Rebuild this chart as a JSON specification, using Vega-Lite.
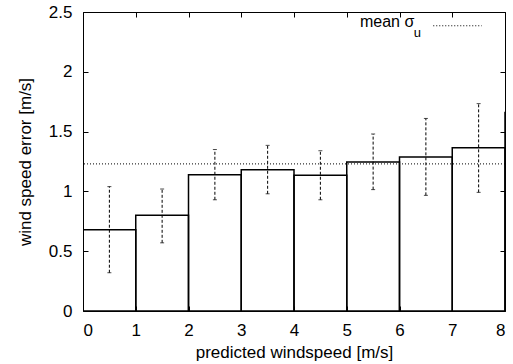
{
  "$schema": "https://vega.github.io/schema/vega-lite/v6.json",
  "width": 422,
  "height": 299,
  "autosize": "none",
  "padding": {"left": 83, "top": 12, "right": 8, "bottom": 53},
  "background": "white",
  "config": {
    "view": {"stroke": "black", "strokeWidth": 1},
    "font": "Liberation Sans",
    "axis": {
      "labelFont": "Liberation Sans",
      "titleFont": "Liberation Sans",
      "labelFontSize": 17,
      "titleFontSize": 17,
      "titleFontWeight": "normal",
      "labelColor": "black",
      "titleColor": "black",
      "domain": false,
      "grid": false,
      "tickColor": "black",
      "tickWidth": 1
    }
  },
  "datasets": {
    "bins": [
      {"lo": 0, "hi": 1, "mid": 0.5, "value": 0.68, "errlo": 0.32, "errhi": 1.04},
      {"lo": 1, "hi": 2, "mid": 1.5, "value": 0.8, "errlo": 0.57, "errhi": 1.02},
      {"lo": 2, "hi": 3, "mid": 2.5, "value": 1.14, "errlo": 0.93, "errhi": 1.35},
      {"lo": 3, "hi": 4, "mid": 3.5, "value": 1.18, "errlo": 0.98, "errhi": 1.385},
      {"lo": 4, "hi": 5, "mid": 4.5, "value": 1.135, "errlo": 0.93, "errhi": 1.34},
      {"lo": 5, "hi": 6, "mid": 5.5, "value": 1.245, "errlo": 1.015, "errhi": 1.48},
      {"lo": 6, "hi": 7, "mid": 6.5, "value": 1.288, "errlo": 0.967, "errhi": 1.61},
      {"lo": 7, "hi": 8, "mid": 7.5, "value": 1.366, "errlo": 0.992, "errhi": 1.734},
      {"lo": 8, "hi": 9, "mid": 8.5, "value": 1.66, "errlo": 1.3, "errhi": 2.0}
    ],
    "mean": [{"mean": 1.23}],
    "key": [{"label": "mean σ", "sub": "u", "tx": 5.25, "ty": 2.375, "sx": 6.27, "sy": 2.29, "x1": 6.64, "x2": 7.56, "ly": 2.385}]
  },
  "resolve": {"axis": {"x": "independent", "y": "independent"}},
  "layer": [
    {
      "data": {"name": "bins"},
      "mark": {"type": "rect", "fill": null, "fillOpacity": 0, "stroke": "black", "strokeWidth": 1.5, "clip": true},
      "encoding": {
        "x": {"field": "lo", "type": "quantitative", "scale": {"domain": [0, 8], "nice": false, "zero": false},
          "axis": {"orient": "bottom", "values": [0,1,2,3,4,5,6,7,8], "format": "d", "tickSize": -5, "labelPadding": 16, "title": "predicted windspeed [m/s]", "titlePadding": 6}},
        "x2": {"field": "hi"},
        "y": {"field": "value", "type": "quantitative", "scale": {"domain": [0, 2.5], "nice": false},
          "axis": {"orient": "left", "values": [0,0.5,1,1.5,2,2.5], "format": "~g", "tickSize": -5, "labelPadding": 16, "title": "wind speed error [m/s]", "titlePadding": 14}},
        "y2": {"datum": 0}
      }
    },
    {
      "data": {"name": "bins"},
      "mark": {"type": "rule", "color": "black", "strokeWidth": 1, "strokeDash": [3, 2], "clip": true},
      "encoding": {
        "x": {"field": "mid", "type": "quantitative",
          "axis": {"orient": "top", "values": [0,1,2,3,4,5,6,7,8], "labels": false, "title": null, "tickSize": -5}},
        "y": {"field": "errlo", "type": "quantitative",
          "axis": {"orient": "right", "values": [0,0.5,1,1.5,2,2.5], "labels": false, "title": null, "tickSize": -5}},
        "y2": {"field": "errhi"}
      }
    },
    {
      "data": {"name": "bins"},
      "mark": {"type": "tick", "orient": "horizontal", "color": "black", "size": 4, "thickness": 1, "clip": true},
      "encoding": {
        "x": {"field": "mid", "type": "quantitative", "axis": null},
        "y": {"field": "errlo", "type": "quantitative", "axis": null}
      }
    },
    {
      "data": {"name": "bins"},
      "mark": {"type": "tick", "orient": "horizontal", "color": "black", "size": 4, "thickness": 1, "clip": true},
      "encoding": {
        "x": {"field": "mid", "type": "quantitative", "axis": null},
        "y": {"field": "errhi", "type": "quantitative", "axis": null}
      }
    },
    {
      "data": {"name": "mean"},
      "mark": {"type": "rule", "color": "black", "strokeWidth": 1, "strokeDash": [1, 2]},
      "encoding": {
        "y": {"field": "mean", "type": "quantitative", "axis": null}
      }
    },
    {
      "data": {"name": "key"},
      "mark": {"type": "text", "align": "left", "baseline": "alphabetic", "fontSize": 16, "font": "Liberation Sans", "color": "black"},
      "encoding": {
        "x": {"field": "tx", "type": "quantitative", "axis": null},
        "y": {"field": "ty", "type": "quantitative", "axis": null},
        "text": {"field": "label"}
      }
    },
    {
      "data": {"name": "key"},
      "mark": {"type": "text", "align": "left", "baseline": "alphabetic", "fontSize": 13, "font": "Liberation Sans", "color": "black"},
      "encoding": {
        "x": {"field": "sx", "type": "quantitative", "axis": null},
        "y": {"field": "sy", "type": "quantitative", "axis": null},
        "text": {"field": "sub"}
      }
    },
    {
      "data": {"name": "key"},
      "mark": {"type": "rule", "color": "black", "strokeWidth": 1, "strokeDash": [1, 2]},
      "encoding": {
        "x": {"field": "x1", "type": "quantitative", "axis": null},
        "x2": {"field": "x2"},
        "y": {"field": "ly", "type": "quantitative", "axis": null}
      }
    }
  ]
}
